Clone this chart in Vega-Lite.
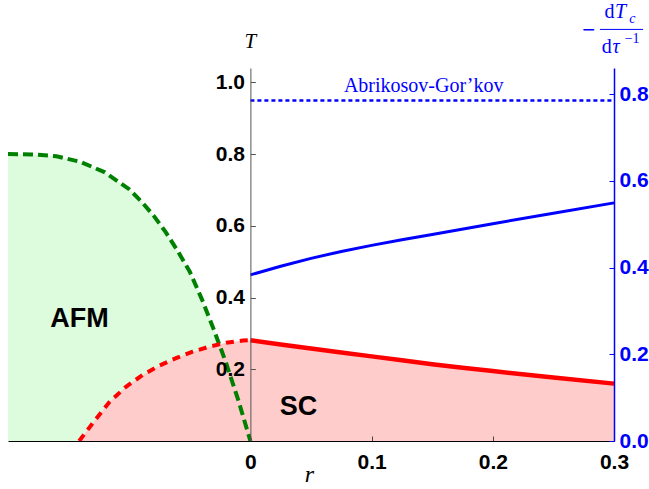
{
  "$schema": "https://vega.github.io/schema/vega-lite/v6.json",
  "width": 606,
  "height": 373,
  "autosize": {"type": "none"},
  "padding": {"left": 8, "top": 68, "right": 35, "bottom": 48},
  "config": {"view": {"stroke": null}, "axis": {"grid": false}},
  "datasets": {
    "afm": [
      {"r": -0.2, "T": 0.8}, {"r": -0.18, "T": 0.799}, {"r": -0.16, "T": 0.794}, {"r": -0.14, "T": 0.778},
      {"r": -0.12, "T": 0.749}, {"r": -0.1, "T": 0.702}, {"r": -0.09, "T": 0.668}, {"r": -0.08, "T": 0.629},
      {"r": -0.07, "T": 0.583}, {"r": -0.06, "T": 0.53}, {"r": -0.05, "T": 0.472}, {"r": -0.04, "T": 0.395},
      {"r": -0.03, "T": 0.309}, {"r": -0.02, "T": 0.217}, {"r": -0.01, "T": 0.114}, {"r": 0.0, "T": 0.0}
    ],
    "sc": [
      {"r": -0.1413, "T": 0.0, "seg": "d"}, {"r": -0.13, "T": 0.05, "seg": "d"}, {"r": -0.1165, "T": 0.108, "seg": "d"},
      {"r": -0.1027, "T": 0.151, "seg": "d"}, {"r": -0.089, "T": 0.184, "seg": "d"}, {"r": -0.0752, "T": 0.21, "seg": "d"},
      {"r": -0.0614, "T": 0.231, "seg": "d"}, {"r": -0.0477, "T": 0.249, "seg": "d"}, {"r": -0.0339, "T": 0.263, "seg": "d"},
      {"r": -0.02, "T": 0.274, "seg": "d"}, {"r": -0.0063, "T": 0.28, "seg": "d"}, {"r": 0.0, "T": 0.281, "seg": "d"},
      {"r": 0.0, "T": 0.281, "seg": "s"}, {"r": 0.025, "T": 0.269, "seg": "s"}, {"r": 0.05, "T": 0.258, "seg": "s"},
      {"r": 0.075, "T": 0.247, "seg": "s"}, {"r": 0.1, "T": 0.236, "seg": "s"}, {"r": 0.125, "T": 0.225, "seg": "s"},
      {"r": 0.15, "T": 0.214, "seg": "s"}, {"r": 0.175, "T": 0.204, "seg": "s"}, {"r": 0.2, "T": 0.195, "seg": "s"},
      {"r": 0.25, "T": 0.177, "seg": "s"}, {"r": 0.3, "T": 0.16, "seg": "s"}
    ],
    "slope": [
      {"r": 0.0, "v": 0.383}, {"r": 0.025, "v": 0.403}, {"r": 0.05, "v": 0.421}, {"r": 0.075, "v": 0.437},
      {"r": 0.1, "v": 0.451}, {"r": 0.125, "v": 0.464}, {"r": 0.15, "v": 0.476}, {"r": 0.2, "v": 0.501},
      {"r": 0.25, "v": 0.525}, {"r": 0.3, "v": 0.549}
    ],
    "ag": [{"r": 0.0, "v": 0.785}, {"r": 0.3, "v": 0.785}]
  },
  "layer": [
    {
      "layer": [
        {
          "data": {"name": "afm"},
          "mark": {"type": "area", "color": "#DDFBDD"},
          "encoding": {
            "x": {"field": "r", "type": "quantitative", "scale": {"domain": [-0.2, 0.3], "nice": false, "zero": false},
              "axis": {"values": [0, 0.1, 0.2, 0.3], "labelExpr": "datum.value == 0 ? '0' : format(datum.value, '.1f')",
                "title": null, "labelFont": "Liberation Sans", "labelFontWeight": "bold", "labelFontSize": 21, "labelColor": "black",
                "domainColor": "black", "domainWidth": 1, "tickColor": "#444", "tickSize": -5, "labelPadding": 15, "labelFlush": false, "zindex": 1}},
            "y": {"field": "T", "type": "quantitative", "stack": null, "scale": {"domain": [0, 1.04], "nice": false},
              "axis": {"orient": "left", "offset": -242.4, "values": [0.2, 0.4, 0.6, 0.8, 1.0], "format": ".1f", "title": null,
                "labelFont": "Liberation Sans", "labelFontWeight": "bold", "labelFontSize": 21, "labelColor": "black",
                "domainColor": "#555", "domainWidth": 1, "tickColor": "#555", "tickSize": -5, "labelPadding": 11, "labelFlush": false, "zindex": 1}}
          }
        },
        {
          "data": {"name": "sc"},
          "mark": {"type": "area", "color": "#FFCCCC"},
          "encoding": {
            "x": {"field": "r", "type": "quantitative", "scale": {"domain": [-0.2, 0.3], "nice": false, "zero": false}},
            "y": {"field": "T", "type": "quantitative", "stack": null, "scale": {"domain": [0, 1.04], "nice": false}}
          }
        },
        {
          "data": {"name": "afm"},
          "mark": {"type": "line", "color": "#008000", "strokeWidth": 4, "strokeDash": [10, 5]},
          "encoding": {
            "x": {"field": "r", "type": "quantitative", "scale": {"domain": [-0.2, 0.3], "nice": false, "zero": false}},
            "y": {"field": "T", "type": "quantitative", "scale": {"domain": [0, 1.04], "nice": false}}
          }
        },
        {
          "data": {"name": "sc"},
          "transform": [{"filter": "datum.seg == 'd'"}],
          "mark": {"type": "line", "color": "#FF0000", "strokeWidth": 4, "strokeDash": [8, 6]},
          "encoding": {
            "x": {"field": "r", "type": "quantitative", "scale": {"domain": [-0.2, 0.3], "nice": false, "zero": false}},
            "y": {"field": "T", "type": "quantitative", "scale": {"domain": [0, 1.04], "nice": false}}
          }
        },
        {
          "data": {"name": "sc"},
          "transform": [{"filter": "datum.seg == 's'"}],
          "mark": {"type": "line", "color": "#FF0000", "strokeWidth": 4.5},
          "encoding": {
            "x": {"field": "r", "type": "quantitative", "scale": {"domain": [-0.2, 0.3], "nice": false, "zero": false}},
            "y": {"field": "T", "type": "quantitative", "scale": {"domain": [0, 1.04], "nice": false}}
          }
        },
        {
          "data": {"values": [{}]},
          "mark": {"type": "text", "text": "AFM", "font": "Liberation Sans", "fontWeight": "bold", "fontSize": 27, "color": "black", "align": "center", "baseline": "alphabetic"},
          "encoding": {
            "x": {"datum": -0.141, "type": "quantitative", "scale": {"domain": [-0.2, 0.3], "nice": false, "zero": false}},
            "y": {"datum": 0.318, "type": "quantitative", "scale": {"domain": [0, 1.04], "nice": false}}
          }
        },
        {
          "data": {"values": [{}]},
          "mark": {"type": "text", "text": "SC", "font": "Liberation Sans", "fontWeight": "bold", "fontSize": 27, "color": "black", "align": "center", "baseline": "alphabetic"},
          "encoding": {
            "x": {"datum": 0.0397, "type": "quantitative", "scale": {"domain": [-0.2, 0.3], "nice": false, "zero": false}},
            "y": {"datum": 0.0717, "type": "quantitative", "scale": {"domain": [0, 1.04], "nice": false}}
          }
        },
        {
          "data": {"values": [{}]},
          "mark": {"type": "text", "text": "Abrikosov-Gor’kov", "font": "Liberation Serif", "fontSize": 20, "color": "#0000FF", "align": "center", "baseline": "alphabetic"},
          "encoding": {
            "x": {"datum": 0.143, "type": "quantitative", "scale": {"domain": [-0.2, 0.3], "nice": false, "zero": false}},
            "y": {"datum": 0.972, "type": "quantitative", "scale": {"domain": [0, 1.04], "nice": false}}
          }
        },
        {
          "data": {"values": [{}]},
          "mark": {"type": "text", "text": "T", "font": "Liberation Serif", "fontStyle": "italic", "fontSize": 21, "color": "black", "align": "center", "baseline": "alphabetic"},
          "encoding": {
            "x": {"datum": 0.0, "type": "quantitative", "scale": {"domain": [-0.2, 0.3], "nice": false, "zero": false}},
            "y": {"datum": 1.0946, "type": "quantitative", "scale": {"domain": [0, 1.04], "nice": false}}
          }
        },
        {
          "data": {"values": [{}]},
          "mark": {"type": "text", "text": "r", "font": "Liberation Serif", "fontStyle": "italic", "fontSize": 24, "color": "black", "align": "center", "baseline": "alphabetic"},
          "encoding": {
            "x": {"datum": 0.0488, "type": "quantitative", "scale": {"domain": [-0.2, 0.3], "nice": false, "zero": false}},
            "y": {"datum": -0.1144, "type": "quantitative", "scale": {"domain": [0, 1.04], "nice": false}}
          }
        },
        {
          "data": {"values": [{}]},
          "mark": {"type": "text", "text": "−", "font": "Liberation Sans", "fontSize": 22, "color": "#0000FF", "align": "center", "baseline": "middle"},
          "encoding": {
            "x": {"datum": 0.2791, "type": "quantitative", "scale": {"domain": [-0.2, 0.3], "nice": false, "zero": false}},
            "y": {"datum": 1.1456, "type": "quantitative", "scale": {"domain": [0, 1.04], "nice": false}}
          }
        },
        {
          "data": {"values": [{}]},
          "mark": {"type": "text", "text": "d", "font": "Liberation Serif", "fontSize": 20, "color": "#0000FF", "align": "left", "baseline": "alphabetic"},
          "encoding": {
            "x": {"datum": 0.2922, "type": "quantitative", "scale": {"domain": [-0.2, 0.3], "nice": false, "zero": false}},
            "y": {"datum": 1.179, "type": "quantitative", "scale": {"domain": [0, 1.04], "nice": false}}
          }
        },
        {
          "data": {"values": [{}]},
          "mark": {"type": "text", "text": "T", "font": "Liberation Serif", "fontStyle": "italic", "fontSize": 20, "color": "#0000FF", "align": "left", "baseline": "alphabetic"},
          "encoding": {
            "x": {"datum": 0.3008, "type": "quantitative", "scale": {"domain": [-0.2, 0.3], "nice": false, "zero": false}},
            "y": {"datum": 1.179, "type": "quantitative", "scale": {"domain": [0, 1.04], "nice": false}}
          }
        },
        {
          "data": {"values": [{}]},
          "mark": {"type": "text", "text": "c", "font": "Liberation Serif", "fontStyle": "italic", "fontSize": 14, "color": "#0000FF", "align": "left", "baseline": "alphabetic"},
          "encoding": {
            "x": {"datum": 0.3125, "type": "quantitative", "scale": {"domain": [-0.2, 0.3], "nice": false, "zero": false}},
            "y": {"datum": 1.165, "type": "quantitative", "scale": {"domain": [0, 1.04], "nice": false}}
          }
        },
        {
          "data": {"values": [{}]},
          "mark": {"type": "rule", "color": "#0000FF", "strokeWidth": 1},
          "encoding": {
            "x": {"datum": 0.2884, "type": "quantitative", "scale": {"domain": [-0.2, 0.3], "nice": false, "zero": false}},
            "x2": {"datum": 0.324},
            "y": {"datum": 1.1476, "type": "quantitative", "scale": {"domain": [0, 1.04], "nice": false}}
          }
        },
        {
          "data": {"values": [{}]},
          "mark": {"type": "text", "text": "d", "font": "Liberation Serif", "fontSize": 20, "color": "#0000FF", "align": "left", "baseline": "alphabetic"},
          "encoding": {
            "x": {"datum": 0.2898, "type": "quantitative", "scale": {"domain": [-0.2, 0.3], "nice": false, "zero": false}},
            "y": {"datum": 1.0806, "type": "quantitative", "scale": {"domain": [0, 1.04], "nice": false}}
          }
        },
        {
          "data": {"values": [{}]},
          "mark": {"type": "text", "text": "τ", "font": "Liberation Serif", "fontStyle": "italic", "fontSize": 20, "color": "#0000FF", "align": "left", "baseline": "alphabetic"},
          "encoding": {
            "x": {"datum": 0.2988, "type": "quantitative", "scale": {"domain": [-0.2, 0.3], "nice": false, "zero": false}},
            "y": {"datum": 1.0806, "type": "quantitative", "scale": {"domain": [0, 1.04], "nice": false}}
          }
        },
        {
          "data": {"values": [{}]},
          "mark": {"type": "text", "text": "−1", "font": "Liberation Serif", "fontSize": 14, "color": "#0000FF", "align": "left", "baseline": "alphabetic"},
          "encoding": {
            "x": {"datum": 0.3088, "type": "quantitative", "scale": {"domain": [-0.2, 0.3], "nice": false, "zero": false}},
            "y": {"datum": 1.1085, "type": "quantitative", "scale": {"domain": [0, 1.04], "nice": false}}
          }
        }
      ]
    },
    {
      "layer": [
        {
          "data": {"name": "slope"},
          "mark": {"type": "line", "color": "#0000FF", "strokeWidth": 3},
          "encoding": {
            "x": {"field": "r", "type": "quantitative", "scale": {"domain": [-0.2, 0.3], "nice": false, "zero": false}},
            "y": {"field": "v", "type": "quantitative", "scale": {"domain": [0, 0.86], "nice": false},
              "axis": {"orient": "right", "values": [0, 0.2, 0.4, 0.6, 0.8], "format": ".1f", "title": null,
                "labelFont": "Liberation Sans", "labelFontWeight": "bold", "labelFontSize": 21, "labelColor": "#0000FF",
                "domainColor": "#0000FF", "domainWidth": 1.5, "tickColor": "#0000FF", "tickSize": -5, "labelPadding": 10, "labelFlush": false, "zindex": 1}}
          }
        },
        {
          "data": {"name": "ag"},
          "mark": {"type": "line", "color": "#0000FF", "strokeWidth": 2.5, "strokeDash": [4, 3]},
          "encoding": {
            "x": {"field": "r", "type": "quantitative", "scale": {"domain": [-0.2, 0.3], "nice": false, "zero": false}},
            "y": {"field": "v", "type": "quantitative", "scale": {"domain": [0, 0.86], "nice": false}}
          }
        }
      ]
    }
  ],
  "resolve": {"scale": {"y": "independent"}, "axis": {"y": "independent"}}
}
